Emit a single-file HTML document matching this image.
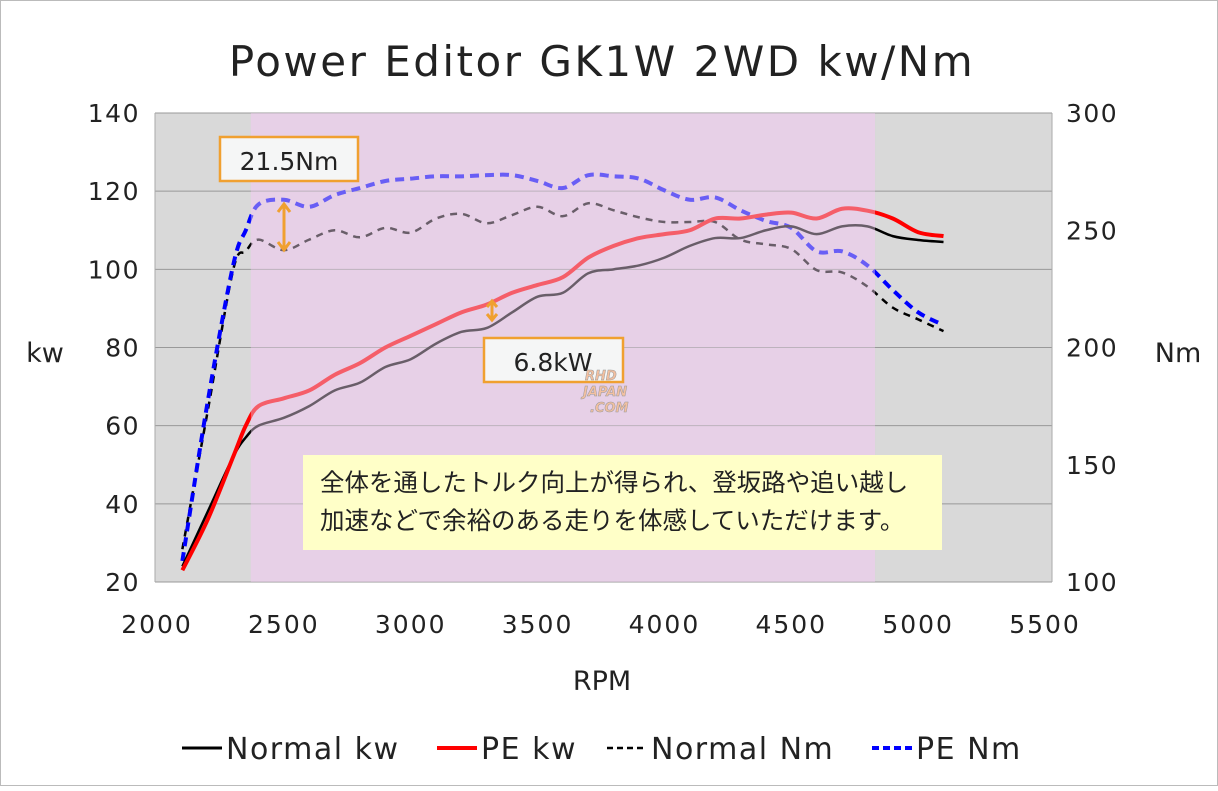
<!DOCTYPE html>
<html><head><meta charset="utf-8"><style>
body{margin:0;background:#fff;}
svg text{font-family:"DejaVu Sans","Liberation Sans","Noto Sans CJK JP",sans-serif;fill:#222;}
</style></head><body>
<svg id="chart" width="1218" height="786" viewBox="0 0 1218 786" xmlns="http://www.w3.org/2000/svg">
<rect x="0.5" y="0.5" width="1217" height="785" fill="#fff" stroke="#bbb"/>
<text x="602" y="76" font-size="42" letter-spacing="2.5" text-anchor="middle">Power Editor GK1W 2WD kw/Nm</text>
<g id="plot"></g>
<text x="45" y="362" font-size="27" text-anchor="middle">kw</text>
<text x="1178" y="362" font-size="27" text-anchor="middle">Nm</text>
<text x="602" y="690" font-size="27" text-anchor="middle">RPM</text>
<g>
<rect x="220" y="137" width="138" height="44" fill="#f5f6f6" stroke="#f0a030" stroke-width="2.5"/>
<text x="289" y="170" font-size="25" text-anchor="middle">21.5Nm</text>
</g>
<g>
<rect x="484" y="338" width="139" height="44" fill="#f5f6f6" stroke="#f0a030" stroke-width="2.5"/>
<text x="553" y="371" font-size="25" text-anchor="middle">6.8kW</text>
</g>
<g stroke="#f0a030" stroke-width="3" fill="none">
<line x1="284" y1="206" x2="284" y2="248"/><path d="M278,212 L284,204 L290,212 M278,242 L284,250 L290,242"/>
</g>
<g stroke="#f0a030" stroke-width="3" fill="none">
<line x1="492" y1="303" x2="492" y2="318"/><path d="M487,307 L492,301 L497,307 M487,314 L492,320 L497,314"/>
</g>
<g>
<rect x="303" y="455" width="639" height="95" fill="#ffffc8"/>
<text x="320" y="491" font-size="24.5" style="font-family:'Noto Sans CJK JP',sans-serif">全体を通したトルク向上が得られ、登坂路や追い越し</text>
<text x="320" y="529" font-size="24.5" style="font-family:'Noto Sans CJK JP',sans-serif">加速などで余裕のある走りを体感していただけます。</text>
</g>
<g font-style="italic" font-weight="bold" font-size="13" stroke="#999" stroke-width="0.5">
<text x="585" y="380" style="fill:#f3c0a0">RHD</text><text x="583" y="396" style="fill:#f3c0a0">JAPAN</text><text x="590" y="412" style="fill:#f3c0a0">.COM</text>
</g>
<g id="legend"></g>
</svg>
<script>
const rpm=[2100,2200,2300,2350,2400,2500,2600,2700,2800,2900,3000,3100,3200,3300,3400,3500,3600,3700,3800,3900,4000,4100,4200,4300,4400,4500,4600,4700,4800,4900,5000,5100];
const normalKw=[24,38,52,57,60,62,65,69,71,75,77,81,84,85,89,93,94,99,100,101,103,106,108,108,110,111,109,111,111,108.5,107.5,107];
const peKw=[23,36,52,60,65,67,69,73,76,80,83,86,89,91,94,96,98,103,106,108,109,110,113,113,114,114.5,113,115.5,115,113,109.5,108.5];
const normalNm=[114,173,233,241,246,241.5,246,250,247,251,249,255,257,253,256.5,260,256,261.5,258.5,255.5,253.5,253.5,253.5,246,244,242,233,232,226,217,212,207];
const peNm=[109,177,235,250,261,263,260,265,268,271,272,273,273,273.5,273.5,271,268,273.5,273,272,267,263,264,258.5,254,251,241,241,235,224.5,215,209.6];
const xTicks=[2000,2500,3000,3500,4000,4500,5000,5500];
const kwTicks=[20,40,60,80,100,120,140];
const nmTicks=[100,150,200,250,300];
const NS='http://www.w3.org/2000/svg';
const L=157,R=1045,T=113,B=582;
const sx=v=>L+(v-2000)/3500*(R-L);
const sy=v=>B-(v-20)/120*(B-T);
const sy2=v=>B-(v-100)/200*(B-T);
const plot=document.getElementById('plot');
function mk(tag,at,parent){const e=document.createElementNS(NS,tag);for(const k in at)e.setAttribute(k,at[k]);(parent||plot).appendChild(e);return e;}
let e;
e=mk('rect',{x:155,y:T,width:897,height:B-T,fill:'#d9d9d9'});


e=mk('rect',{x:sx(2370),y:T,width:sx(4830)-sx(2370),height:B-T,fill:'#e6cfe6'});


kwTicks.forEach(t=>{
 e=mk('line',{x1:155,x2:1052,y1:sy(t),y2:sy(t),stroke:'#999','stroke-width':1});
 
 
 e=mk('text',{x:140,y:sy(t)+9,'font-size':25,'letter-spacing':1.5,'text-anchor':'end'});e.textContent=t;
 
 
});
nmTicks.forEach(t=>{
 e=mk('text',{x:1066,y:sy2(t)+9,'font-size':25,'letter-spacing':1.5});e.textContent=t;
 
 
});
xTicks.forEach(t=>{
 e=mk('text',{x:sx(t),y:633,'font-size':25,'letter-spacing':2,'text-anchor':'middle'});e.textContent=t;
 
 
});
mk('line',{x1:155,x2:155,y1:T,y2:B,stroke:'#aaa'});
mk('line',{x1:1052,x2:1052,y1:T,y2:B,stroke:'#aaa'});
function path(xs,ys){
 const p=xs.map((x,i)=>[x,ys[i]]);let d='M'+p[0][0]+','+p[0][1];
 for(let i=0;i<p.length-1;i++){const p0=p[i-1]||p[i],p1=p[i],p2=p[i+1],p3=p[i+2]||p2;
  d+=' C'+(p1[0]+(p2[0]-p0[0])/6)+','+(p1[1]+(p2[1]-p0[1])/6)+' '+(p2[0]-(p3[0]-p1[0])/6)+','+(p2[1]-(p3[1]-p1[1])/6)+' '+p2[0]+','+p2[1];}
 return d;}
const xs=rpm.map(sx);
const series=[
 {d:normalNm,f:sy2,c:'#000',w:2.5,da:'7,6',n:'line-normal-nm'},
 {d:peNm,f:sy2,c:'#0000ff',w:4,da:'9,6',n:'line-pe-nm'},
 {d:normalKw,f:sy,c:'#000',w:2.5,da:'',n:'line-normal-kw'},
 {d:peKw,f:sy,c:'#ff0000',w:4,da:'',n:'line-pe-kw'}];
series.forEach(s=>{
 e=mk('path',{d:path(xs,s.d.map(s.f)),fill:'none',stroke:s.c,'stroke-width':s.w,'stroke-dasharray':s.da});
 
 
});
e=mk('rect',{x:sx(2370),y:T,width:sx(4830)-sx(2370),height:B-T,fill:'#e8d0e8',opacity:0.45});


const lg=document.getElementById('legend');
const items=[['Normal kw','#000',3,'',182],['PE kw','#ff0000',4,'',437],['Normal Nm','#000',2.5,'6,4',607],['PE Nm','#0000ff',4,'7,4',872]];
items.forEach(it=>{
 e=mk('line',{x1:it[4],x2:it[4]+40,y1:748,y2:748,stroke:it[1],'stroke-width':it[2],'stroke-dasharray':it[3]},lg);
 
 
 e=mk('text',{x:it[4]+44,y:759,'font-size':30,'letter-spacing':1.5},lg);e.textContent=it[0];
 
 
});
</script>
</body></html>
